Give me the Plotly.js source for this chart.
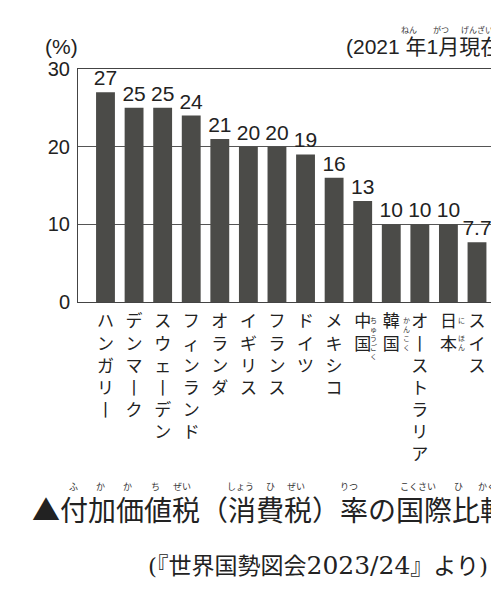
<!DOCTYPE html>
<html>
<head>
<meta charset="utf-8">
<script src="https://cdn.plot.ly/plotly-3.0.1.min.js"></script>
<style>
html,body{margin:0;padding:0;background:#fff;overflow:hidden;}
#chart{width:491px;height:594px;}
</style>
</head>
<body>
<div id="chart"></div>
<script>
// ---- data ----
const countries = ['ハンガリー','デンマーク','スウェーデン','フィンランド','オランダ','イギリス','フランス','ドイツ','メキシコ','中国','韓国','オーストラリア','日本','スイス'];
const vatRates = [27, 25, 25, 24, 21, 20, 20, 19, 16, 13, 10, 10, 10, 7.7];
const yTickVals = [0, 10, 20, 30];
const yTickText = ['0', '10', '20', '30'];
const rubyCountries = ['中国', '韓国', '日本'];
const rubyTexts = [['ち','ゅ','う','ご','く'], ['か','ん','こ','く'], ['に','','ほ','ん']];
const unitLabel = '(%)';
const dateNote = '(2021 年1月現在)';
const titleText = '▲付加価値税（消費税）率の国際比較';
const titleRuby = ['ふ','か','か','ち','ぜい','しょう','ひ','ぜい','りつ','こくさい','ひ','かく'];
const sourceText = '(『世界国勢図会2023/24』より)';

// ---- layout helpers (pixel -> paper) ----
const L = 78, R = 491, T = 69, B = 302;
const px = x => (x - L) / (R - L);
const py = y => (B - y) / (B - T);

const JP = '"Noto Sans CJK JP", "Noto Sans", sans-serif';
const NUM = '"Liberation Sans Narrow", "Liberation Sans", Arial, sans-serif';

const vertical = s => Array.from(s).map(c => c === 'ー' ? '丨' : c).join('<br>');

const trace = {
  type: 'bar',
  x: countries,
  y: vatRates,
  text: vatRates.map(v => String(v)),
  textposition: 'outside',
  constraintext: 'none',
  cliponaxis: false,
  textfont: {family: NUM, size: 21, color: '#222'},
  marker: {color: '#4b4b48', line: {width: 0}},
  hoverinfo: 'skip'
};

const annotations = [];
// unit and date
annotations.push({xref:'paper', yref:'paper', x: px(61), y: py(46), xanchor:'center', yanchor:'middle',
  text: unitLabel, showarrow:false, font:{family: NUM, size: 21, color:'#222'}});
annotations.push({xref:'paper', yref:'paper', x: px(344), y: py(46), xanchor:'left', yanchor:'middle',
  text: dateNote, showarrow:false, font:{family: NUM + ', ' + JP, size: 21, color:'#222'}});
annotations.push({xref:'paper', yref:'paper', x: px(409), y: py(30), xanchor:'center', yanchor:'middle',
  text: 'ねん', showarrow:false, font:{family: JP, size: 8, color:'#333'}});
annotations.push({xref:'paper', yref:'paper', x: px(441), y: py(30), xanchor:'center', yanchor:'middle',
  text: 'がつ', showarrow:false, font:{family: JP, size: 8, color:'#333'}});
annotations.push({xref:'paper', yref:'paper', x: px(477), y: py(30), xanchor:'center', yanchor:'middle',
  text: 'げんざい', showarrow:false, font:{family: JP, size: 8, color:'#333'}});

// ruby for country labels
const rubyShift = [11, 15, 13];
rubyCountries.forEach((c, i) => {
  annotations.push({xref:'x', yref:'paper', x: c, xshift: rubyShift[i], y: py(313), xanchor:'center', yanchor:'top',
    text: rubyTexts[i].map(ch => ch === '' ? ' ' : ch).join('<br>'), showarrow:false,
    font:{family: JP, size: 7, color:'#333'}});
});

// title
annotations.push({xref:'paper', yref:'paper', x: px(30), y: py(509), xanchor:'left', yanchor:'middle',
  text: titleText, showarrow:false, font:{family: JP, size: 28, color:'#222'}});
const rubyX = [73, 100, 127.5, 155, 182, 240, 270, 296, 349, 418, 458, 487];
titleRuby.forEach((r, i) => {
  annotations.push({xref:'paper', yref:'paper', x: px(rubyX[i]), y: py(487), xanchor:'center', yanchor:'middle',
    text: r, showarrow:false, font:{family: JP, size: 9, color:'#333'}});
});
// source
annotations.push({xref:'paper', yref:'paper', x: px(146), y: py(565), xanchor:'left', yanchor:'middle',
  text: sourceText.replace('2023/24', '<span style="font-size:25px">2023/24</span>'), showarrow:false,
  font:{family: '"DejaVu Serif", "Liberation Serif", ' + JP, size: 23, color:'#222'}});

const layout = {
  width: 491, height: 594,
  margin: {l: L, r: 0, t: T, b: 594 - B, pad: 0},
  paper_bgcolor: '#ffffff',
  plot_bgcolor: '#ffffff',
  showlegend: false,
  bargap: 0.34,
  xaxis: {
    type: 'category',
    range: [-0.962, 13.49],
    tickmode: 'array',
    tickvals: countries,
    ticktext: countries.map(vertical),
    tickfont: {family: JP, size: 17, color: '#222'},
    tickangle: 0,
    ticks: '',
    ticklabelstandoff: 4,
    showline: true, mirror: true, linecolor: '#444', linewidth: 1,
    showgrid: false, zeroline: false, fixedrange: true
  },
  yaxis: {
    range: [0, 30],
    tickmode: 'array',
    tickvals: yTickVals,
    ticktext: yTickText,
    tickfont: {family: NUM, size: 20, color: '#222'},
    ticks: '',
    ticklabelstandoff: 3,
    showline: true, linecolor: '#444', linewidth: 1,
    showgrid: true, gridcolor: '#555', gridwidth: 1,
    zeroline: false, fixedrange: true
  },
  annotations: annotations
};

Plotly.newPlot('chart', [trace], layout, {staticPlot: true, displayModeBar: false});
</script>
</body>
</html>
